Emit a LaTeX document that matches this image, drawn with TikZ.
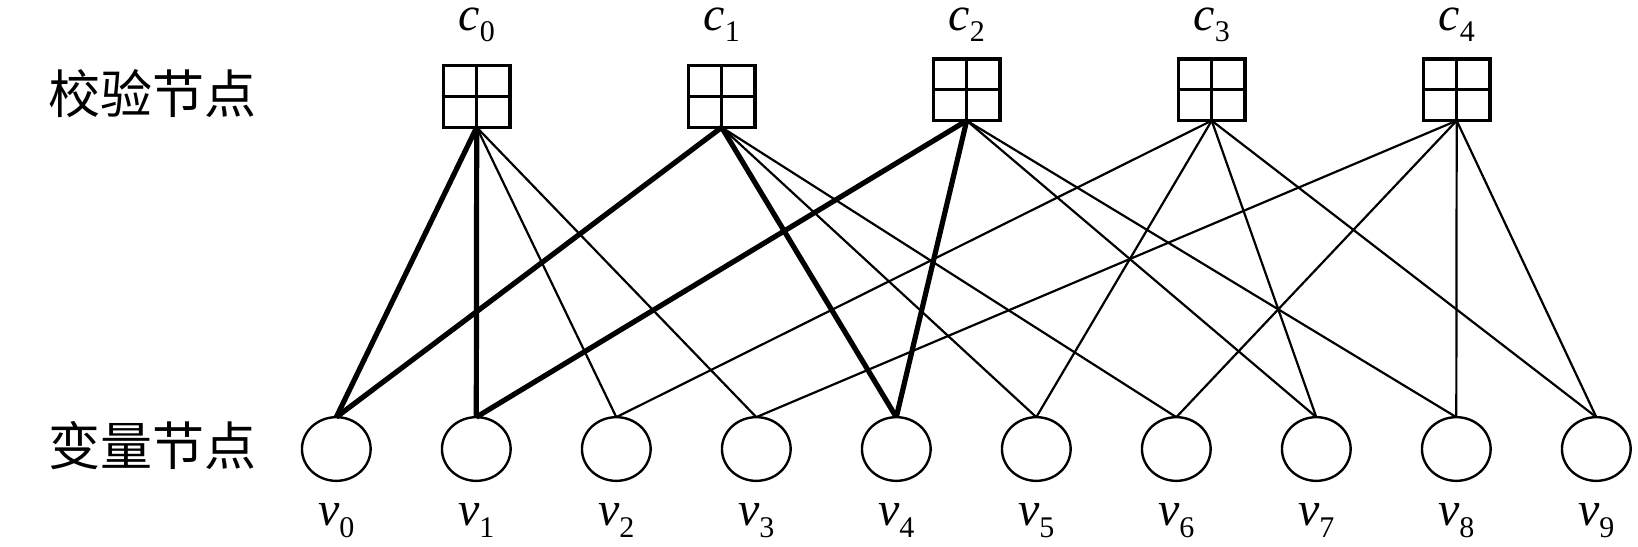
\documentclass[tikz,border=0pt]{standalone}
\usepackage{fontspec}
\setmainfont{Liberation Serif}
\newfontfamily\cjk{Noto Sans CJK SC}
\usetikzlibrary{shapes.geometric}
\newcommand\mylbl[2]{\fontsize{48}{48}\selectfont\textit{#1}\raisebox{-12pt}{\fontsize{30}{30}\selectfont #2}}
\begin{document}
\begin{tikzpicture}[x=1pt,y=-1pt,
  cbox/.style={draw, line width=3.3pt, minimum width=66.7pt, minimum height=61.7pt, inner sep=0pt, outer sep=0pt},
  crossline/.style={line width=3.3pt},
  vnode/.style={draw, ellipse, line width=2.4pt, minimum width=68.7pt, minimum height=63.7pt, inner sep=0pt, outer sep=0pt},
  edgethin/.style={line width=2.2pt},
  edgethick/.style={line width=5.2pt},
  lbl/.style={anchor=base, inner sep=0pt},
  cjklbl/.style={font=\cjk\fontsize{52}{52}\selectfont, inner sep=0pt}
]
\useasboundingbox (0,0) rectangle (1638,546);
% check nodes
\foreach \i/\y in {0/96.5,1/96.5,2/89.8,3/89.8,4/89.8}{
  \node[cbox] (c\i) at ({476.7+245*\i},\y) {};
  \draw[crossline] (c\i.north) -- (c\i.south) (c\i.west) -- (c\i.east);
  \node[lbl] (lc\i) at ({476.7+245*\i},30) {\mylbl{c}{\i}};
}
% variable nodes
\foreach \j in {0,...,9}{
  \node[vnode] (v\j) at ({336.3+140*\j},449) {};
  \node[lbl] (lv\j) at ({336.3+140*\j},525) {\mylbl{v}{\j}};
}
\node[cjklbl] (tc) at (152,94) {校验节点};
\node[cjklbl] (tv) at (152,446) {变量节点};
% thick cycle edges
\foreach \a/\b in {0/0,0/1,1/0,1/4,2/1,2/4}{
  \draw[edgethick] (c\a.south) -- (v\b.north);
}
% thin edges
\foreach \a/\b in {0/2,0/3,1/5,1/6,2/7,2/8,3/2,3/5,3/7,3/9,4/3,4/6,4/8,4/9}{
  \draw[edgethin] (c\a.south) -- (v\b.north);
}
\end{tikzpicture}
\end{document}
